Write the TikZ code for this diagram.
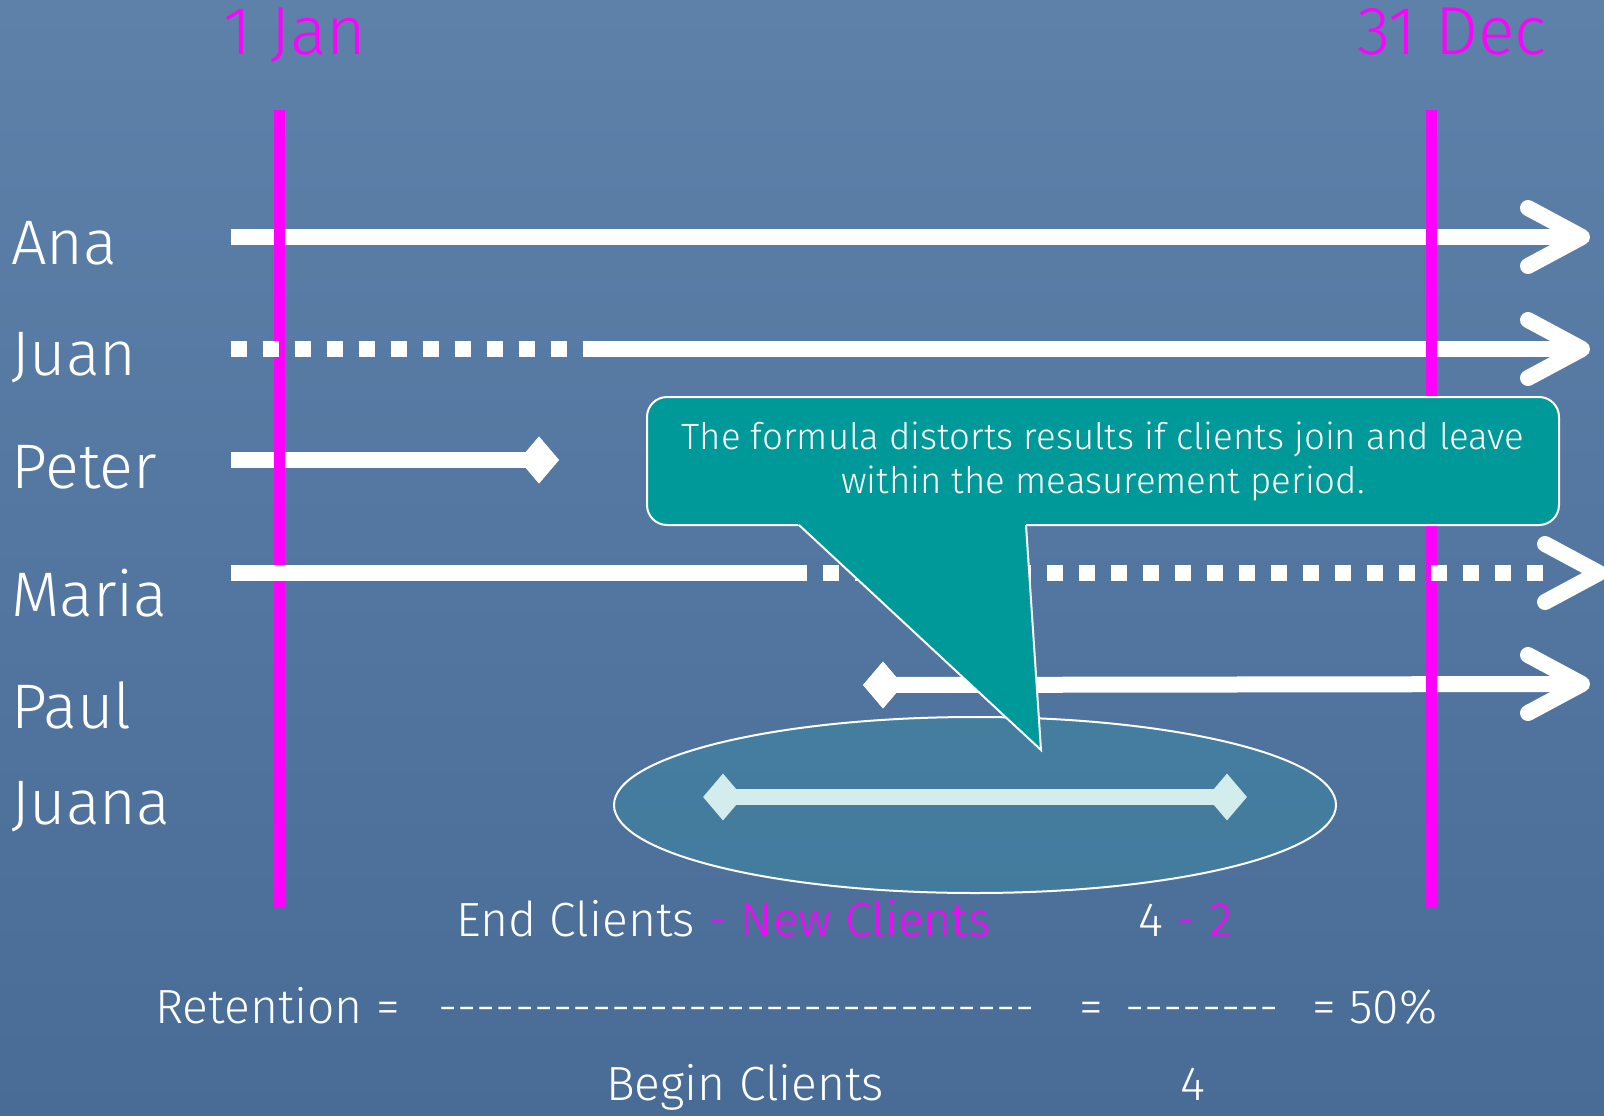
\documentclass[tikz,border=0pt]{standalone}
\usepackage{fontspec}
\setmainfont{Fira Sans Light}
\usetikzlibrary{shapes.geometric,calc}
\definecolor{bgtop}{RGB}{94,129,170}
\definecolor{bgbot}{RGB}{72,108,150}
\definecolor{mag}{RGB}{255,0,255}
\definecolor{callteal}{RGB}{0,153,153}
\definecolor{juanacol}{RGB}{211,236,236}
\definecolor{ellfill}{RGB}{50,145,165}
\newcommand\hyrun[1]{\foreach \i in {1,...,#1}{-}}
\begin{document}
\begin{tikzpicture}[x=1pt,y=-1pt,
  wline/.style={white,line width=16pt},
  dotline/.style={wline,dash pattern=on 16pt off 16pt},
  chev/.style={white,line width=16pt,line cap=round,line join=round},
  magline/.style={mag,line width=11pt},
  dmd/.style={diamond,fill=white,inner sep=0pt,minimum width=40pt,minimum height=47pt},
  namelbl/.style={anchor=base west,text=white,font=\fontsize{63}{63}\selectfont,inner sep=0pt},
  datelbl/.style={anchor=base west,text=mag,font=\fontsize{68}{68}\selectfont,inner sep=0pt},
  ftxt/.style={anchor=base west,text=white,font=\fontsize{48}{48}\selectfont,inner sep=0pt},
  callbox/.style={rectangle,rounded corners=20pt,fill=callteal,draw=white,line width=2pt,
    minimum width=912pt,minimum height=128pt,text=white,align=center,
    font=\fontsize{36.6}{44}\selectfont,inner sep=0pt},
  ellbox/.style={ellipse,draw=white,line width=2pt,fill=ellfill,fill opacity=0.35,
    minimum width=722pt,minimum height=176pt,inner sep=0pt}
]
\useasboundingbox (0,0) rectangle (1604,1116);
\fill[top color=bgtop,bottom color=bgbot] (0,0) rectangle (1604,1116);

% dates
\node[datelbl] (jan) at (223,55) {1 Jan};
\node[datelbl] (dec) at (1357,55) {31 Dec};

% names
\node[namelbl] (ana) at (11,264) {Ana};
\node[namelbl] (juan) at (11,375) {Juan};
\node[namelbl] (peter) at (11,488) {Peter};
\node[namelbl] (maria) at (11,616) {Maria};
\node[namelbl] (paul) at (11,728) {Paul};
\node[namelbl] (juana) at (11,824) {Juana};

% coordinates
\coordinate (anaS) at (231,237);
\coordinate (anaT) at (1582,237);
\coordinate (juanS) at (231,349);
\coordinate (juanM) at (567,349);
\coordinate (juanN) at (583,349);
\coordinate (juanT) at (1582,349);
\coordinate (peterS) at (231,460);
\coordinate (mariaS) at (231,573);
\coordinate (mariaM) at (807,573);
\coordinate (mariaN) at (823,573);
\coordinate (mariaE) at (1543,573);
\coordinate (mariaT) at (1599,573);
\coordinate (paulT) at (1582,684);
\coordinate (janTop) at (279,110);
\coordinate (janBot) at (279,908);
\coordinate (decTop) at (1431,110);
\coordinate (decBot) at (1431,908);

% Ana
\draw[wline] (anaS) -- (anaT);
\draw[chev] ($(anaT)+(-54,-29)$) -- (anaT) -- ($(anaT)+(-54,29)$);
% Juan solid part
\draw[wline] (juanN) -- (juanT);
\draw[chev] ($(juanT)+(-54,-29)$) -- (juanT) -- ($(juanT)+(-54,29)$);
% Peter
\node[dmd] (peterD) at (539,460) {};
\draw[wline] (peterS) -- (peterD.center);
\node[dmd] at (peterD.center) {};
% Paul
\node[dmd] (paulD) at (883,685) {};
\draw[wline] (paulD.center) -- (paulT);
\node[dmd] at (paulD.center) {};
\draw[chev] ($(paulT)+(-54,-29)$) -- (paulT) -- ($(paulT)+(-54,29)$);

% magenta period lines
\draw[magline] (janTop) -- (janBot);
\draw[magline] (decTop) -- (decBot);

% Juan dotted part
\draw[dotline] (juanS) -- (juanM);
% Maria
\draw[wline] (mariaS) -- (mariaM);
\draw[dotline] (mariaN) -- (mariaE);
\draw[chev] ($(mariaT)+(-54,-29)$) -- (mariaT) -- ($(mariaT)+(-54,29)$);

% Juana in ellipse
\node[ellbox] (ell) at (975,805) {};
\node[dmd,fill=juanacol] (juanaL) at (723,797) {};
\node[dmd,fill=juanacol] (juanaR) at (1227,797) {};
\draw[juanacol,line width=16pt] (juanaL.center) -- (juanaR.center);

% callout
\node[callbox] (call) at (1103,461) {The formula distorts results if clients join and leave\\within the measurement period.};
\coordinate (pL) at (799,525);
\coordinate (pR) at (1026,525);
\coordinate (pTip) at (1041,750);
\fill[callteal] ($(pL)+(-3.3,-3)$) -- (pTip) -- ($(pR)+(-0.2,-3)$) -- cycle;
\draw[white,line width=2pt] (pL) -- (pTip) -- (pR);

% formula
\node[ftxt] (endc) at (456,936) {End Clients \textcolor{mag}{- New Clients}};
\node[ftxt] (num) at (1138,936) {4 \textcolor{mag}{- 2}};
\node[ftxt] (ret) at (155,1023) {Retention =};
\node[ftxt] (bar1) at (438,1023) {\hyrun{31}};
\node[ftxt] (eq1) at (1079,1023) {=};
\node[ftxt] (bar2) at (1125,1023) {\hyrun{8}};
\node[ftxt] (res) at (1312,1023) {= 50\%};
\node[ftxt] (begc) at (606,1100) {Begin Clients};
\node[ftxt] (den) at (1180,1100) {4};
\end{tikzpicture}
\end{document}
